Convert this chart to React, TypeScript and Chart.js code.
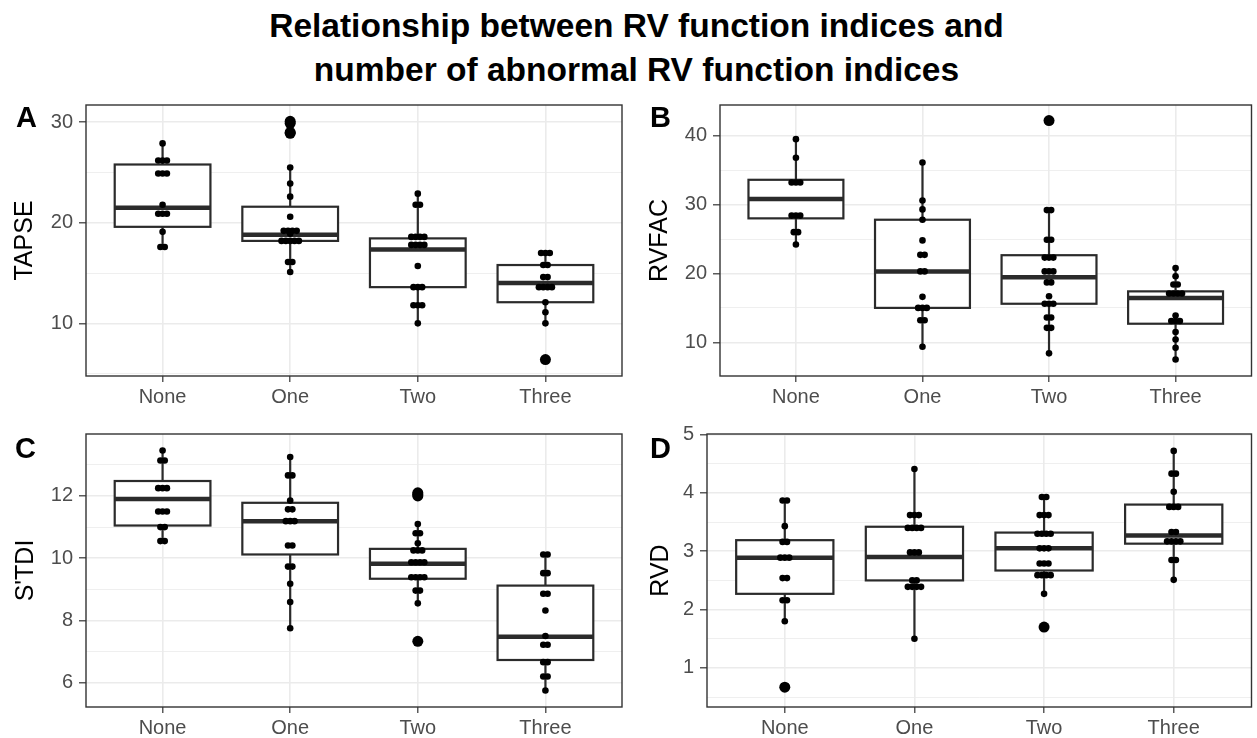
import React, { useEffect, useRef } from 'react';
import { Chart, registerables } from 'chart.js';

Chart.register(...registerables);

const FONT = "'Liberation Sans', Arial, Helvetica, sans-serif";

const categories = ['None', 'One', 'Two', 'Three'];

// Panel A: TAPSE
const tapseQ1 = [19.6, 18.2, 13.6, 12.1];
const tapseMedian = [21.5, 18.8, 17.35, 14.0];
const tapseQ3 = [25.8, 21.6, 18.45, 15.8];
const tapseLow = [17.6, 15.1, 10.0, 10.0];
const tapseHigh = [27.9, 25.5, 22.9, 17.0];
const tapsePoints = [
  [27.9, 26.2, 26.2, 26.2, 24.9, 24.9, 24.9, 21.8, 20.9, 20.9, 20.9, 19.1, 17.6, 17.6],
  [25.5, 23.9, 22.6, 20.6, 19.2, 19.2, 19.2, 19.2, 18.9, 18.2, 18.2, 18.2, 18.2, 18.2, 16.1, 16.1, 15.1],
  [22.9, 21.8, 21.8, 18.6, 18.6, 18.6, 18.6, 17.8, 17.8, 17.8, 17.8, 15.7, 13.6, 13.6, 13.6, 11.8, 11.8, 11.8, 10.0],
  [17.0, 17.0, 17.0, 15.8, 15.8, 14.6, 14.6, 13.6, 13.6, 13.6, 13.6, 12.1, 11.1, 10.0],
];
const tapseOutliers = [[], [30.1, 29.9, 29.0, 28.9], [], [6.4]];
const tapseTicks = [10, 20, 30];

// Panel B: RVFAC
const rvfacQ1 = [28.0, 15.0, 15.6, 12.7];
const rvfacMedian = [30.8, 20.3, 19.45, 16.45];
const rvfacQ3 = [33.6, 27.8, 22.65, 17.4];
const rvfacLow = [24.2, 9.35, 8.4, 7.5];
const rvfacHigh = [39.5, 36.1, 29.2, 20.8];
const rvfacPoints = [
  [39.5, 36.8, 33.2, 33.2, 33.2, 28.4, 28.4, 28.4, 26.0, 26.0, 24.2],
  [36.1, 30.6, 29.3, 27.8, 24.8, 22.7, 22.7, 20.3, 20.3, 16.6, 15.0, 15.0, 15.0, 13.2, 13.2, 9.35],
  [29.2, 29.2, 24.9, 24.9, 22.3, 22.3, 22.3, 20.3, 20.3, 20.3, 18.7, 18.7, 16.7, 15.6, 15.6, 15.6, 13.6, 13.6, 12.1, 12.1, 8.4],
  [20.8, 19.6, 18.4, 18.4, 17.1, 17.1, 17.1, 17.1, 13.9, 13.1, 13.1, 13.1, 11.5, 10.4, 9.2, 7.5],
];
const rvfacOutliers = [[], [], [42.2], []];
const rvfacTicks = [10, 20, 30, 40];

// Panel C: S'TDI
const stdiQ1 = [11.05, 10.12, 9.34, 6.73];
const stdiMedian = [11.9, 11.19, 9.82, 7.48];
const stdiQ3 = [12.48, 11.78, 10.3, 9.12];
const stdiLow = [10.55, 7.75, 8.55, 5.75];
const stdiHigh = [13.46, 13.25, 11.1, 10.12];
const stdiPoints = [
  [13.46, 13.14, 13.14, 12.25, 12.25, 12.25, 11.5, 11.5, 11.5, 11.0, 11.0, 10.55, 10.55],
  [13.25, 12.66, 12.66, 11.85, 11.57, 11.57, 11.19, 11.19, 11.19, 10.41, 10.41, 9.73, 9.73, 9.18, 8.59, 7.75],
  [11.1, 10.8, 10.8, 10.48, 10.25, 10.25, 10.25, 9.87, 9.87, 9.87, 9.87, 9.39, 9.39, 9.39, 9.39, 8.96, 8.96, 8.55],
  [10.12, 10.12, 9.52, 9.52, 8.86, 8.86, 8.32, 7.5, 7.22, 7.22, 6.66, 6.66, 6.2, 6.2, 5.75],
];
const stdiOutliers = [[], [], [12.1, 12.05, 12.0, 7.33], []];
const stdiTicks = [6, 8, 10, 12];

// Panel D: RVD
const rvdQ1 = [2.27, 2.5, 2.67, 3.13];
const rvdMedian = [2.89, 2.9, 3.05, 3.27];
const rvdQ3 = [3.19, 3.42, 3.32, 3.8];
const rvdLow = [1.8, 1.5, 2.27, 2.51];
const rvdHigh = [3.87, 4.41, 3.93, 4.72];
const rvdPoints = [
  [3.87, 3.87, 3.43, 3.16, 3.16, 2.89, 2.89, 2.89, 2.54, 2.54, 2.16, 2.16, 1.8],
  [4.41, 3.62, 3.62, 3.62, 3.4, 3.4, 3.4, 3.4, 2.98, 2.98, 2.98, 2.5, 2.5, 2.39, 2.39, 2.39, 2.39, 1.5],
  [3.93, 3.93, 3.62, 3.62, 3.62, 3.3, 3.3, 3.3, 3.3, 3.05, 3.05, 3.05, 2.79, 2.79, 2.79, 2.59, 2.59, 2.59, 2.59, 2.27],
  [4.72, 4.33, 4.33, 4.02, 3.76, 3.76, 3.76, 3.33, 3.33, 3.17, 3.17, 3.17, 3.17, 2.85, 2.85, 2.51],
];
const rvdOutliers = [[0.67], [], [1.7], []];
const rvdTicks = [1, 2, 3, 4, 5];

type PanelProps = {
  tag: string;
  yTitle: string;
  q1: number[];
  median: number[];
  q3: number[];
  low: number[];
  high: number[];
  points: number[][];
  outliers: number[][];
  majorTicks: number[];
  yMin: number;
  yMax: number;
  left: number;
  top: number;
  width: number;
  height: number;
  yAxisWidth: number;
  xAxisHeight: number;
  padRight: number;
  titlePad: number;
  tagLeft: number;
  tagTop: number;
};

function stackPoints(groups: number[][], step: number) {
  const out: { x: number; y: number }[] = [];
  groups.forEach((values, gi) => {
    const counts = new Map<number, number>();
    values.forEach((v) => counts.set(v, (counts.get(v) || 0) + 1));
    const seen = new Map<number, number>();
    values.forEach((v) => {
      const n = counts.get(v)!;
      const k = seen.get(v) || 0;
      seen.set(v, k + 1);
      out.push({ x: gi + 1 + (k - (n - 1) / 2) * step, y: v });
    });
  });
  return out;
}

function Panel(p: PanelProps) {
  const ref = useRef<HTMLCanvasElement | null>(null);
  useEffect(() => {
    if (!ref.current) return;
    const majors = p.majorTicks;
    const stepMaj = majors[1] - majors[0];
    const all: number[] = [];
    for (let v = majors[0] - stepMaj / 2; v <= majors[majors.length - 1] + stepMaj / 2 + 1e-9; v += stepMaj / 2) {
      if (v >= p.yMin - 1e-9 && v <= p.yMax + 1e-9) all.push(Math.round(v * 1000) / 1000);
    }
    const isMajor = (v: number) => majors.some((m) => Math.abs(m - v) < 1e-6);

    const boxPlugin = {
      id: 'boxes',
      beforeDatasetsDraw(chart: any) {
        const { ctx, scales } = chart;
        const x = scales.x;
        const y = scales.y;
        ctx.save();
        ctx.strokeStyle = '#2b2b2b';
        for (let i = 0; i < categories.length; i++) {
          const cx = x.getPixelForValue(i + 1);
          const l = x.getPixelForValue(i + 1 - 0.375);
          const r = x.getPixelForValue(i + 1 + 0.375);
          const y1 = y.getPixelForValue(p.q1[i]);
          const y3 = y.getPixelForValue(p.q3[i]);
          const ym = y.getPixelForValue(p.median[i]);
          const yl = y.getPixelForValue(p.low[i]);
          const yh = y.getPixelForValue(p.high[i]);
          ctx.lineWidth = 2.2;
          ctx.beginPath();
          ctx.moveTo(cx, y3);
          ctx.lineTo(cx, yh);
          ctx.moveTo(cx, y1);
          ctx.lineTo(cx, yl);
          ctx.stroke();
          ctx.fillStyle = '#ffffff';
          ctx.fillRect(l, y3, r - l, y1 - y3);
          ctx.strokeRect(l, y3, r - l, y1 - y3);
          ctx.lineWidth = 4.5;
          ctx.beginPath();
          ctx.moveTo(l, ym);
          ctx.lineTo(r, ym);
          ctx.stroke();
        }
        ctx.restore();
      },
      afterDraw(chart: any) {
        const { ctx, chartArea } = chart;
        ctx.save();
        ctx.strokeStyle = '#333333';
        ctx.lineWidth = 1.4;
        ctx.strokeRect(chartArea.left, chartArea.top, chartArea.right - chartArea.left, chartArea.bottom - chartArea.top);
        ctx.restore();
      },
    };

    const chart = new Chart(ref.current, {
      type: 'scatter',
      data: {
        datasets: [
          {
            data: stackPoints(p.points, 0.034),
            pointRadius: 3.3,
            pointHoverRadius: 3.3,
            backgroundColor: '#000000',
            borderWidth: 0,
          },
          {
            data: stackPoints(p.outliers, 0.03),
            pointRadius: 5.5,
            pointHoverRadius: 5.5,
            backgroundColor: '#000000',
            borderWidth: 0,
          },
        ],
      },
      options: {
        animation: false,
        responsive: true,
        maintainAspectRatio: false,
        events: [],
        layout: { padding: { top: 10, right: p.padRight, bottom: 0, left: 0 } },
        plugins: { legend: { display: false }, tooltip: { enabled: false }, title: { display: false } },
        scales: {
          x: {
            type: 'linear',
            min: 0.4,
            max: 4.6,
            afterBuildTicks: (s: any) => {
              s.ticks = categories.map((_, i) => ({ value: i + 1 }));
            },
            afterFit: (s: any) => {
              s.height = p.xAxisHeight;
              s.paddingLeft = 0;
              s.paddingRight = 0;
              s.paddingTop = 0;
              s.paddingBottom = 0;
            },
            ticks: {
              autoSkip: false,
              maxRotation: 0,
              padding: 3,
              color: '#4D4D4D',
              font: { family: FONT, size: 20 },
              callback: (v: any) => categories[Math.round(Number(v)) - 1] ?? '',
            },
            grid: {
              color: '#EBEBEB',
              lineWidth: 1.6,
              tickLength: 6,
              tickColor: '#333333',
              tickWidth: 1.2,
            },
            border: { display: false },
          },
          y: {
            type: 'linear',
            min: p.yMin,
            max: p.yMax,
            afterBuildTicks: (s: any) => {
              s.ticks = all.map((v) => ({ value: v }));
            },
            afterFit: (s: any) => {
              s.width = p.yAxisWidth;
              s.paddingTop = 0;
              s.paddingBottom = 0;
              s.paddingLeft = 0;
              s.paddingRight = 0;
            },
            ticks: {
              autoSkip: false,
              padding: 6,
              color: '#4D4D4D',
              font: { family: FONT, size: 20 },
              callback: (v: any) => (isMajor(Number(v)) ? String(v) : ''),
            },
            grid: {
              color: '#EBEBEB',
              lineWidth: (c: any) => (c.tick && isMajor(c.tick.value) ? 1.6 : 0.8),
              tickLength: 7,
              tickColor: (c: any) => (c.tick && isMajor(c.tick.value) ? '#333333' : 'rgba(0,0,0,0)'),
              tickWidth: 1.2,
            },
            border: { display: false },
            title: {
              display: true,
              text: p.yTitle,
              color: '#000000',
              font: { family: FONT, size: 25 },
              padding: { top: p.titlePad, bottom: 0 },
            },
          },
        },
      } as any,
      plugins: [boxPlugin],
    });
    return () => chart.destroy();
  }, []);

  return (
    <>
      <div style={{ position: 'absolute', left: p.left, top: p.top, width: p.width, height: p.height }}>
        <canvas ref={ref} />
      </div>
      <div
        style={{
          position: 'absolute',
          left: p.tagLeft,
          top: p.tagTop,
          fontFamily: FONT,
          fontWeight: 'bold',
          fontSize: 29,
          lineHeight: '29px',
          color: '#000',
        }}
      >
        {p.tag}
      </div>
    </>
  );
}

export default function App() {
  return (
    <div style={{ position: 'absolute', left: 0, top: 0, width: 1257, height: 738, background: '#fff', overflow: 'hidden' }}>
      <div
        style={{
          position: 'absolute',
          left: 8,
          top: 4,
          width: 1257,
          textAlign: 'center',
          fontFamily: FONT,
          fontWeight: 'bold',
          fontSize: 33.5,
          lineHeight: '44px',
          color: '#000',
        }}
      >
        <div>Relationship between RV function indices and</div>
        <div>number of abnormal RV function indices</div>
      </div>
      <Panel
        tag="A"
        yTitle="TAPSE"
        q1={tapseQ1}
        median={tapseMedian}
        q3={tapseQ3}
        low={tapseLow}
        high={tapseHigh}
        points={tapsePoints}
        outliers={tapseOutliers}
        majorTicks={tapseTicks}
        yMin={4.76}
        yMax={31.72}
        left={0}
        top={95}
        width={630}
        height={330}
        yAxisWidth={86}
        xAxisHeight={49}
        padRight={8}
        titlePad={10}
        tagLeft={16}
        tagTop={103}
      />
      <Panel
        tag="B"
        yTitle="RVFAC"
        q1={rvfacQ1}
        median={rvfacMedian}
        q3={rvfacQ3}
        low={rvfacLow}
        high={rvfacHigh}
        points={rvfacPoints}
        outliers={rvfacOutliers}
        majorTicks={rvfacTicks}
        yMin={5.11}
        yMax={44.46}
        left={630}
        top={95}
        width={627}
        height={330}
        yAxisWidth={90}
        xAxisHeight={49}
        padRight={1}
        titlePad={15}
        tagLeft={650}
        tagTop={103}
      />
      <Panel
        tag="C"
        yTitle="S'TDI"
        q1={stdiQ1}
        median={stdiMedian}
        q3={stdiQ3}
        low={stdiLow}
        high={stdiHigh}
        points={stdiPoints}
        outliers={stdiOutliers}
        majorTicks={stdiTicks}
        yMin={5.22}
        yMax={13.99}
        left={0}
        top={424}
        width={630}
        height={314}
        yAxisWidth={86}
        xAxisHeight={31}
        padRight={8}
        titlePad={11}
        tagLeft={15}
        tagTop={434}
      />
      <Panel
        tag="D"
        yTitle="RVD"
        q1={rvdQ1}
        median={rvdMedian}
        q3={rvdQ3}
        low={rvdLow}
        high={rvdHigh}
        points={rvdPoints}
        outliers={rvdOutliers}
        majorTicks={rvdTicks}
        yMin={0.33}
        yMax={5.01}
        left={630}
        top={424}
        width={627}
        height={314}
        yAxisWidth={77}
        xAxisHeight={31}
        padRight={1}
        titlePad={16}
        tagLeft={650}
        tagTop={434}
      />
    </div>
  );
}
